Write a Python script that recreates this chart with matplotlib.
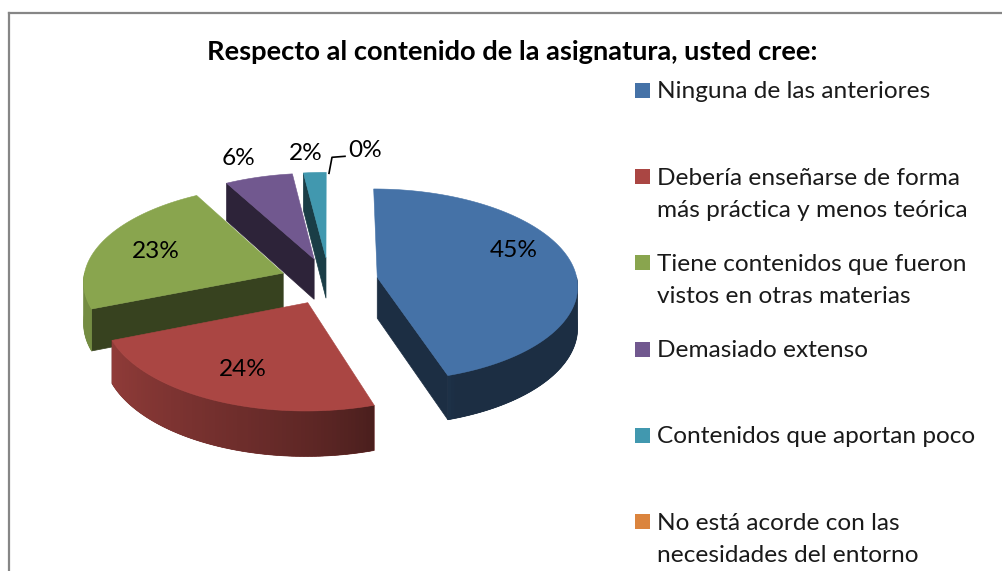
import numpy as np
import matplotlib
matplotlib.use("Agg")
import matplotlib.pyplot as plt
import matplotlib.colors as mcolors
from matplotlib.patches import Polygon, Rectangle
from matplotlib.lines import Line2D

plt.rcParams['font.family'] = ['Lato', 'DejaVu Sans']

# Chart data
title = "Respecto al contenido de la asignatura, usted cree:"
categories = [
    "Ninguna de las anteriores",
    "Debería enseñarse de forma\nmás práctica y menos teórica",
    "Tiene contenidos que fueron\nvistos en otras materias",
    "Demasiado extenso",
    "Contenidos que aportan poco",
    "No está acorde con las\nnecesidades del entorno",
]
percentages = [45, 24, 23, 6, 2, 0]
colors = ["#4572A7", "#AA4643", "#89A54E", "#71588F", "#4198AF", "#DB843D"]

# Geometry of the fake 3D pie (pixel units)
CX, CY = 329, 281      # projected centre of the pie plane
R = 200                # radius
TILT = 0.48            # vertical squash of the disc
PERSP = 0.08           # perspective strength
DEPTH = 41             # thickness of the pie
EXPLODE = 0.245        # explosion distance, in radii

FS = 17.6              # label / legend font size


def project(u, v, z=0.0):
    # u: right, v: back (radius units), z: 0 top face, 1 bottom face
    s = 1.0 / (1.0 + PERSP * v)
    return CX + R * u * s, CY - R * TILT * v * s + DEPTH * z * s


def shade(color, f):
    r, g, b = mcolors.to_rgb(color)
    return (r * f, g * f, b * f)


def wall_factor(theta):
    # light comes from the left/front: darker on the right side
    t = np.clip((theta - 160.0) / 88.0, 0, 1)
    return 0.4 + 0.45 * t ** 0.7


fig = plt.figure(figsize=(10.03, 5.71), dpi=100)
ax = fig.add_axes([0, 0, 1, 1])
ax.set_xlim(0, 1003)
ax.set_ylim(571, 0)
ax.axis("off")

# chart frame
ax.add_line(Line2D([9.5, 9.5], [571, 12.5], color="#868686", lw=1.6))
ax.add_line(Line2D([9.5, 1003], [12.5, 12.5], color="#868686", lw=1.6))

vals = np.array(percentages, dtype=float)
ends = np.cumsum(vals) / vals.sum() * 360.0
starts = ends - vals / vals.sum() * 360.0
mids = (starts + ends) / 2.0

centres = [(EXPLODE * np.sin(np.radians(m)), EXPLODE * np.cos(np.radians(m))) for m in mids]

# back-to-front drawing order
order = sorted([i for i in range(len(vals)) if vals[i] > 0], key=lambda i: -centres[i][1])

z = 2
for i in order:
    u0, v0 = centres[i]
    t1, t2 = starts[i], ends[i]
    col = colors[i]

    def rim(th, zz=0.0):
        r_ = np.radians(th)
        return project(u0 + np.sin(r_), v0 + np.cos(r_), zz)

    # radial walls facing the viewer
    for th, visible in ((t1, np.sin(np.radians(t1)) < -1e-6), (t2, np.sin(np.radians(t2)) > 1e-6)):
        if visible:
            pts = [project(u0, v0, 0), rim(th, 0), rim(th, 1), project(u0, v0, 1)]
            ax.add_patch(Polygon(pts, closed=True, facecolor=shade(col, 0.4),
                                 edgecolor=shade(col, 0.4), lw=0.5, zorder=z))
    # curved outer wall: outline first, then overlapping shaded strips
    a, b = max(t1, 90.0), min(t2, 270.0)
    if b > a:
        full = np.linspace(a, b, int(b - a) + 2)
        pts = [rim(th, 0) for th in full] + [rim(th, 1) for th in full[::-1]]
        fc = shade(col, wall_factor((a + b) / 2))
        ax.add_patch(Polygon(pts, closed=True, facecolor=fc, edgecolor=fc,
                             lw=0.5, zorder=z))
        n = max(int((b - a) / 1.0), 2)
        edges = np.linspace(a, b, n + 1)
        step = edges[1] - edges[0]
        for ta in edges[:-1]:
            tb = min(ta + step * 1.8, b)
            fc = shade(col, wall_factor(ta + step / 2))
            sub = np.linspace(ta, tb, 3)
            pts = [rim(th, 0) for th in sub] + [rim(th, 1) for th in sub[::-1]]
            ax.add_patch(Polygon(pts, closed=True, facecolor=fc, edgecolor="none",
                                 lw=0, zorder=z + 0.1))
    # top face
    arc = np.linspace(t1, t2, max(int(t2 - t1), 2) + 1)
    pts = [project(u0, v0, 0)] + [rim(th, 0) for th in arc]
    ax.add_patch(Polygon(pts, closed=True, facecolor=col, edgecolor=col,
                         lw=0.4, zorder=z + 0.5))
    z += 1

# data labels
label_shift = {0: -16}
for i, p in enumerate(percentages):
    u0, v0 = centres[i]
    m = np.radians(mids[i])
    if p >= 10:
        x, y = project(u0 + 0.7 * np.sin(m), v0 + 0.7 * np.cos(m))
        ax.text(x, y + label_shift.get(i, 0), f"{p}%", fontsize=FS,
                ha="center", va="center", zorder=20)
    elif p > 0:
        x, y = project(u0 + 1.27 * np.sin(m), v0 + 1.25 * np.cos(m))
        ax.text(x - 6, y, f"{p}%", fontsize=FS, ha="center", va="center", zorder=20)
    else:
        x, y = project(u0 + np.sin(m), v0 + np.cos(m))
        ax.add_line(Line2D([x, x + 3, x + 16], [y + 1, y - 15, y - 16],
                           color="black", lw=1.2, zorder=20))
        ax.text(x + 19, y - 22, f"{p}%", fontsize=FS, ha="left", va="center", zorder=20)

# title
ax.text(512, 60, title, fontsize=19.6, fontweight="bold", ha="center", va="baseline")

# legend
LEG_X, LEG_Y0, LEG_STEP, LINE_STEP = 635, 90.5, 86.2, 32
for i, (lab, col) in enumerate(zip(categories, colors)):
    yc = LEG_Y0 + i * LEG_STEP
    ax.add_patch(Rectangle((LEG_X, yc - 7.5), 15, 15, facecolor=col, edgecolor="none"))
    for j, line in enumerate(lab.split("\n")):
        ax.text(LEG_X + 22, yc + 8 + j * LINE_STEP, line, fontsize=FS,
                ha="left", va="baseline", color="#1a1a1a")

fig.savefig("out.png", dpi=100)
